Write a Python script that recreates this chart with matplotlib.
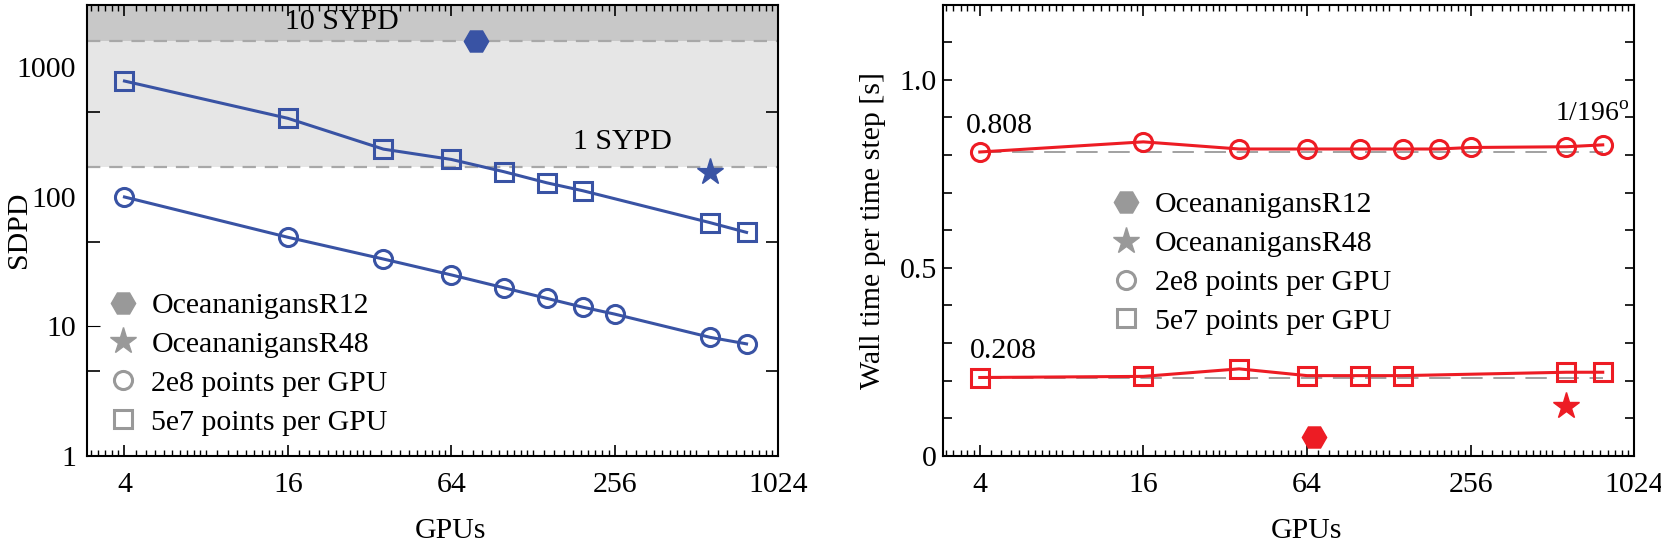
import matplotlib
matplotlib.use("Agg")
import matplotlib.pyplot as plt
from matplotlib.lines import Line2D
from matplotlib.ticker import FixedLocator, NullFormatter, LogLocator

plt.rcParams['font.family'] = ['Liberation Serif', 'DejaVu Serif']
plt.rcParams['mathtext.fontset'] = 'custom'
plt.rcParams['mathtext.rm'] = 'Liberation Serif'

# ---------------- data ----------------
gpus_2e8 = [4, 16, 36, 64, 100, 144, 196, 256, 576, 784]
sdpd_2e8 = [99.5, 48.6, 33.0, 24.9, 19.8, 16.4, 14.0, 12.4, 8.2, 7.3]
gpus_5e7 = [4, 16, 36, 64, 100, 144, 196, 576, 784]
sdpd_5e7 = [782, 403, 233, 194, 156, 128, 111, 63, 53]
r12_sdpd_gpu, r12_sdpd = [79], [1600]
r48_sdpd_gpu, r48_sdpd = [576], [156]
sypd1_sdpd = 170
sypd10_sdpd = 1600

wall_gpus_2e8 = [4, 16, 36, 64, 100, 144, 196, 256, 576, 784]
wall_2e8 = [0.808, 0.835, 0.816, 0.816, 0.816, 0.816, 0.816, 0.820, 0.822, 0.827]
wall_gpus_5e7 = [4, 16, 36, 64, 100, 144, 576, 784]
wall_5e7 = [0.208, 0.211, 0.231, 0.213, 0.213, 0.213, 0.222, 0.222]
r12_wall_gpu, r12_wall = [68], [0.05]
r48_wall_gpu, r48_wall = [576], [0.133]
ref_2e8 = 0.808
ref_5e7 = 0.208

xticks = [4, 16, 64, 256, 1024]
xticklabels = ['4', '16', '64', '256', '1024']
yticks_left = [1, 10, 100, 1000]
yticklabels_left = ['1', '10', '100', '1000']
yminor_left = [4.5, 45, 450]
yticks_right = [0, 0.5, 1.0]
yticklabels_right = ['0', '0.5', '1.0']
legend_labels = ['OceananigansR12', 'OceananigansR48', '2e8 points per GPU', '5e7 points per GPU']

BLUE = '#3953a4'
RED = '#ed1c24'
GREY = '#999999'
FS = 21.5

fig = plt.figure(figsize=(16.61, 5.50), dpi=100)
axL = fig.add_axes([0.0526, 0.1715, 0.4158, 0.82])
axR = fig.add_axes([0.5675, 0.1715, 0.4164, 0.82])

XLIM = (2.92, 1024)

def style_x(ax):
    ax.set_xscale('log', base=2)
    ax.set_xlim(*XLIM)
    ax.xaxis.set_major_locator(FixedLocator(xticks))
    ax.set_xticklabels(xticklabels)
    ax.xaxis.set_minor_locator(LogLocator(base=2, subs=[1.0, 1.1, 1.2, 1.3, 1.4, 1.5, 1.6, 1.7, 1.8, 1.9], numticks=50))
    ax.xaxis.set_minor_formatter(NullFormatter())
    ax.tick_params(axis='x', which='major', direction='in', top=True, bottom=True, length=8, width=1.2, labelsize=FS, pad=12)
    ax.tick_params(axis='x', which='minor', direction='in', top=True, bottom=True, length=4, width=1.0)
    for s in ax.spines.values():
        s.set_linewidth(1.5)

# ---------------- left panel ----------------
ax = axL
style_x(ax)
ax.set_yscale('log')
ax.set_ylim(1, 3040)
ax.axhspan(sypd10_sdpd, 3040, color='#c8c8c8', lw=0, zorder=0)
ax.axhspan(sypd1_sdpd, sypd10_sdpd, color='#e6e6e6', lw=0, zorder=0)
ax.axhline(sypd10_sdpd, color='#a8a8a8', lw=1.6, dashes=(6, 4), zorder=1)
ax.axhline(sypd1_sdpd, color='#a8a8a8', lw=1.6, dashes=(6, 4), zorder=1)
ax.text(25.3, 2245, '10 SYPD', fontsize=FS, ha='center', va='center')
ax.text(274, 266, '1 SYPD', fontsize=FS, ha='center', va='center')

ax.plot(gpus_5e7, sdpd_5e7, color=BLUE, lw=2.2, marker='s', ms=13.5, mfc='none', mec=BLUE, mew=2.2, zorder=3)
ax.plot(gpus_2e8, sdpd_2e8, color=BLUE, lw=2.2, marker='o', ms=13, mfc='none', mec=BLUE, mew=2.2, zorder=3)
ax.plot(r12_sdpd_gpu, r12_sdpd, ls='none', marker='H', ms=17.5, color=BLUE, zorder=4)
ax.plot(r48_sdpd_gpu, r48_sdpd, ls='none', marker='*', ms=19.5, color=BLUE, zorder=4)

ax.yaxis.set_major_locator(FixedLocator(yticks_left))
ax.set_yticklabels(yticklabels_left)
ax.yaxis.set_minor_locator(FixedLocator(yminor_left))
ax.yaxis.set_minor_formatter(NullFormatter())
ax.tick_params(axis='y', which='major', direction='in', left=True, right=True, length=0, labelsize=FS, pad=8)
ax.tick_params(axis='y', which='minor', direction='in', left=True, right=True, length=9, width=1.2)
ax.set_xlabel('GPUs', fontsize=FS)
ax.set_ylabel('SDPD', fontsize=FS)
ax.xaxis.set_label_coords(0.526, -0.138)
ax.yaxis.set_label_coords(-0.080, 0.5)

def proxies():
    return [
        Line2D([], [], ls='none', marker='H', ms=17.5, color=GREY),
        Line2D([], [], ls='none', marker='*', ms=19.5, color=GREY),
        Line2D([], [], ls='none', marker='o', ms=13, mfc='none', mec=GREY, mew=2.2),
        Line2D([], [], ls='none', marker='s', ms=13.5, mfc='none', mec=GREY, mew=2.2),
    ]

ax.legend(proxies(), legend_labels, loc='center left', bbox_to_anchor=(0.030, 0.2035),
          frameon=False, fontsize=FS, handlelength=1.0, handletextpad=0.45,
          labelspacing=0.4, borderpad=0, borderaxespad=0)

# ---------------- right panel ----------------
ax = axR
style_x(ax)
ax.set_ylim(0, 1.2)
ax.plot([wall_gpus_2e8[0], wall_gpus_2e8[-1]], [ref_2e8, ref_2e8], color='#888888', lw=1.1, dashes=(14, 7), zorder=2)
ax.plot([wall_gpus_5e7[0], wall_gpus_5e7[-1]], [ref_5e7, ref_5e7], color='#888888', lw=1.1, dashes=(14, 7), zorder=2)
ax.plot(wall_gpus_2e8, wall_2e8, color=RED, lw=2.2, marker='o', ms=13, mfc='none', mec=RED, mew=2.2, zorder=3)
ax.plot(wall_gpus_5e7, wall_5e7, color=RED, lw=2.2, marker='s', ms=13.5, mfc='none', mec=RED, mew=2.2, zorder=3)
ax.plot(r12_wall_gpu, r12_wall, ls='none', marker='H', ms=17.5, color=RED, zorder=4)
ax.plot(r48_wall_gpu, r48_wall, ls='none', marker='*', ms=19.5, color=RED, zorder=4)
ax.text(4.74, 0.878, f'{ref_2e8:.3f}', fontsize=FS, ha='center', va='center')
ax.text(4.9, 0.279, f'{ref_5e7:.3f}', fontsize=FS, ha='center', va='center')
ax.text(720, 0.909, r'1/196$^{\rm o}$', fontsize=FS - 1.5, ha='center', va='center')

ax.yaxis.set_major_locator(FixedLocator(yticks_right))
ax.set_yticklabels(yticklabels_right)
ax.yaxis.set_minor_locator(FixedLocator([0.1, 0.2, 0.3, 0.4, 0.6, 0.7, 0.8, 0.9, 1.1]))
ax.yaxis.set_minor_formatter(NullFormatter())
ax.tick_params(axis='y', which='both', direction='in', left=True, right=True, length=6.5, width=1.2, labelsize=FS, pad=4)
ax.set_xlabel('GPUs', fontsize=FS)
ax.set_ylabel('Wall time per time step [s]', fontsize=FS)
ax.xaxis.set_label_coords(0.526, -0.138)
ax.yaxis.set_label_coords(-0.082, 0.5)

ax.legend(proxies(), legend_labels, loc='center left', bbox_to_anchor=(0.244, 0.427),
          frameon=False, fontsize=FS, handlelength=1.0, handletextpad=0.45,
          labelspacing=0.4, borderpad=0, borderaxespad=0)

# short tick mark at 10 on the left spine only
t10 = axL.yaxis.get_major_ticks()[1]
t10.tick1line.set_markersize(9)

fig.savefig('out.png', dpi=100)
